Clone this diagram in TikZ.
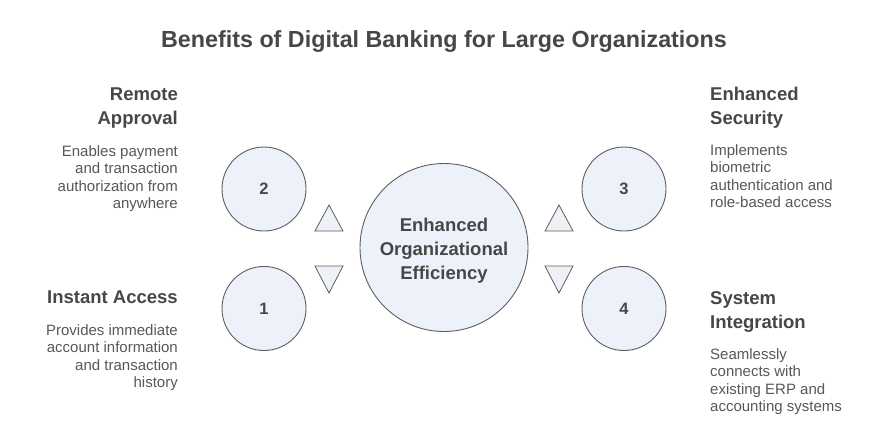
\documentclass[tikz,border=0pt]{standalone}
\usepackage{fontspec}
\setmainfont{Liberation Sans}
\definecolor{fillc}{HTML}{EDF2FA}
\definecolor{trifill}{HTML}{EEF1F6}
\definecolor{linec}{HTML}{5E5E5E}
\definecolor{headc}{HTML}{474747}
\definecolor{bodyc}{HTML}{585858}
\tikzset{
  circ/.style={circle, draw=linec, line width=0.9pt, fill=fillc, inner sep=0pt, minimum size=84pt,
    text=headc, font=\fontsize{16.5}{20}\selectfont\bfseries},
  bigcirc/.style={circle, draw=linec, line width=0.9pt, fill=fillc, inner sep=0pt, minimum size=168pt},
  tri/.style={draw=linec, line width=0.8pt, fill=trifill, line join=miter},
  head/.style={inner sep=0pt, text=headc, font=\fontsize{18.5}{24}\selectfont\bfseries},
  body/.style={inner sep=0pt, text=bodyc, font=\fontsize{15}{17.6}\selectfont},
}
\begin{document}
\begin{tikzpicture}[x=1pt,y=-1pt]
\useasboundingbox[fill=white] (0,0) rectangle (888,440);

\node[inner sep=0pt, text=headc, font=\fontsize{23.3}{26}\selectfont\bfseries, anchor=base] (title) at (444,47.3)
  {Benefits of Digital Banking for Large Organizations};

\node[bigcirc] (center) at (444,247.5) {};
% anchor=base of a multi-line node is the baseline of its last line
\node[head, align=center, anchor=base] (ctext) at (444,279.7) {Enhanced\\Organizational\\Efficiency};

\node[circ] (c2) at (264,189) {2};
\node[circ] (c1) at (264,308.5) {1};
\node[circ] (c3) at (624,189) {3};
\node[circ] (c4) at (624,308.5) {4};

% triangles
\draw[tri] (315,231) -- (329,205) -- (343,231) -- cycle;
\draw[tri] (315,266) -- (343,266) -- (329,293) -- cycle;
\draw[tri] (545,231) -- (559,205) -- (573,231) -- cycle;
\draw[tri] (545,266) -- (573,266) -- (559,293) -- cycle;

% left texts
\node[head, align=right, anchor=base east] (h2) at (178,124) {Remote\\Approval};
\node[body, align=right, anchor=base east] (b2) at (178,208.8) {Enables payment\\and transaction\\authorization from\\anywhere};
\node[head, align=right, anchor=base east] (h1) at (178,303) {Instant Access};
\node[body, align=right, anchor=base east] (b1) at (178,387.8) {Provides immediate\\account information\\and transaction\\history};

% right texts
\node[head, align=left, anchor=base west] (h3) at (710,124) {Enhanced\\Security};
\node[body, align=left, anchor=base west] (b3) at (710,207.8) {Implements\\biometric\\authentication and\\role-based access};
\node[head, align=left, anchor=base west] (h4) at (710,328.3) {System\\Integration};
\node[body, align=left, anchor=base west] (b4) at (710,411.8) {Seamlessly\\connects with\\existing ERP and\\accounting systems};
\end{tikzpicture}
\end{document}
